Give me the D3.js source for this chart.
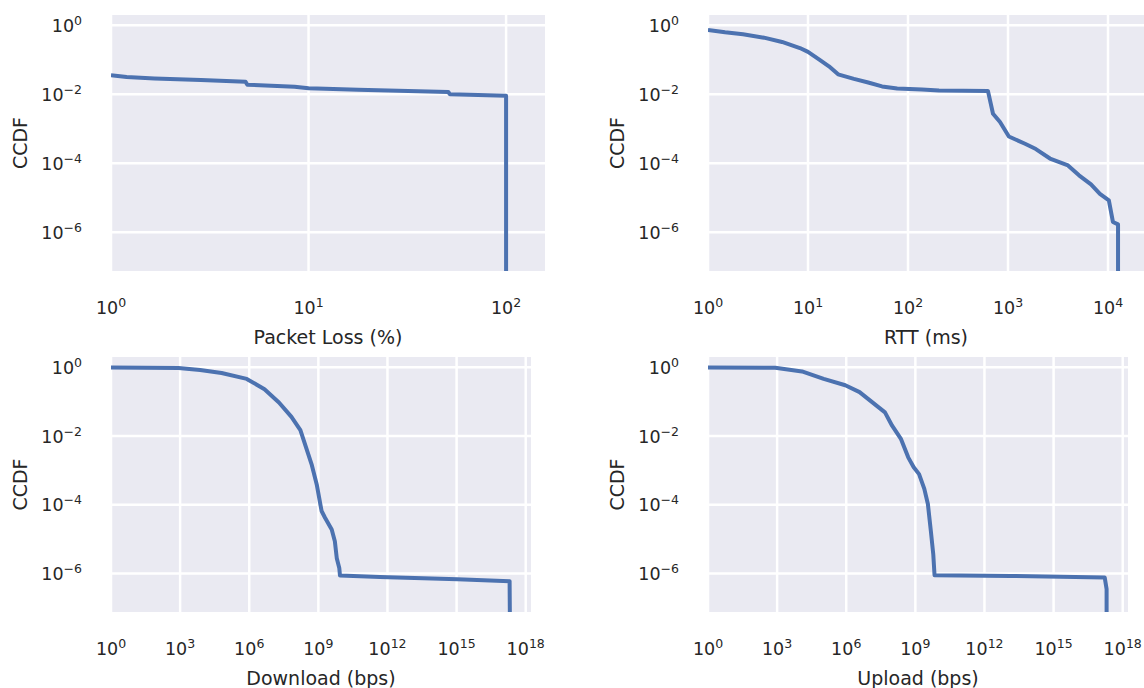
<!DOCTYPE html>
<html lang="en">
  <head>
    <meta charset="UTF-8" />
    <title>CCDF panels</title>
    <script src="https://cdn.jsdelivr.net/npm/d3@7"></script>
    <style>
      body { margin: 0; background: #fff; }
      text { font-family: "DejaVu Sans", sans-serif; fill: #262626; }
    </style>
  </head>
  <body>
    <script>
      // values
      var lossX = [1, 1.2, 1.66, 2.85, 4.8, 4.9, 8.5, 10, 17.8, 51, 52, 100, 100];
      var lossY = [0.036, 0.032, 0.029, 0.026, 0.023, 0.019, 0.0166, 0.0151, 0.0135, 0.0117, 0.0100, 0.0091, 1e-8];

      var rttX = [1, 1.48, 2.24, 3.63, 5.5, 8.3, 10, 13.2, 16.2, 20, 28.8, 40, 55, 78, 138, 204, 630,
                  708, 832, 1020, 1480, 1900, 2630, 3980, 5130, 6760, 8300, 10200, 11200, 12600, 12600];
      var rttY = [0.74, 0.63, 0.55, 0.44, 0.33, 0.22, 0.17, 0.098, 0.065, 0.038, 0.028, 0.022, 0.017, 0.0148, 0.0138, 0.0129, 0.0126,
                  0.00275, 0.00158, 0.0006, 0.00037, 0.00026, 0.000138, 8.7e-5, 4.5e-5, 2.45e-5, 1.3e-5, 8.5e-6, 2e-6, 1.7e-6, 1e-8];

      var downX = [1, 850, 7400, 6.3e4, 7.8e5, 4.6e6, 1.95e7, 6.8e7, 1.66e8, 5.1e8, 8.5e8, 1.38e9, 1.95e9, 3.8e9,
                   5.2e9, 6.3e9, 8.1e9, 8.7e9, 4.8e11, 1.1e15, 2e17, 2.1e17];
      var downY = [0.98, 0.95, 0.83, 0.68, 0.46, 0.23, 0.095, 0.036, 0.0148, 1.5e-3, 3.9e-4, 6.6e-5, 4.2e-5, 1.9e-5,
                   8.7e-6, 2.8e-6, 1.45e-6, 8.7e-7, 7.9e-7, 6.8e-7, 6.0e-7, 1e-8];

      var upX = [1, 830, 1.2e4, 1.05e5, 9.1e5, 3.8e6, 1.1e7, 4.8e7, 9.8e7, 2.4e8, 4.9e8, 8.5e8, 1.45e9, 2.45e9,
                 3.5e9, 4.7e9, 6e9, 6.8e9, 1.35e13, 1.66e17, 2e17, 2e17];
      var upY = [0.98, 0.97, 0.76, 0.46, 0.30, 0.19, 0.107, 0.049, 0.02, 0.0081, 0.0024, 0.00123, 7.8e-4, 2.9e-4,
                 1.05e-4, 1.74e-5, 3.6e-6, 8.9e-7, 8.5e-7, 7.6e-7, 3.5e-7, 1e-8];

      // tick exponents
      var yTickExp = [0, -2, -4, -6];
      var lossTickExp = [0, 1, 2];
      var rttTickExp = [0, 1, 2, 3, 4];
      var bpsTickExp = [0, 3, 6, 9, 12, 15, 18];

      var labels = ["Packet Loss (%)", "RTT (ms)", "Download (bps)", "Upload (bps)"];

      var w = 1144, h = 688;
      var svg = d3.select("body").append("svg")
                  .attr("width", w)
                  .attr("height", h);

      var panels = [
        { xs: lossX, ys: lossY, ticks: lossTickExp, xmax: Math.pow(10, 2.197), left: 111, right: 545, top: 15, bottom: 271, label: labels[0] },
        { xs: rttX, ys: rttY, ticks: rttTickExp, xmax: Math.pow(10, 4.36), left: 708, right: 1144, top: 15, bottom: 271, label: labels[1] },
        { xs: downX, ys: downY, ticks: bpsTickExp, xmax: Math.pow(10, 18.23), left: 111, right: 531, top: 357, bottom: 612, label: labels[2] },
        { xs: upX, ys: upY, ticks: bpsTickExp, xmax: Math.pow(10, 18.23), left: 708, right: 1128, top: 357, bottom: 612, label: labels[3] }
      ];

      function sup(n) {
        return String(n).replace("-", "\u2212");
      }

      panels.forEach(function(p, i) {
        var xScale = d3.scaleLog().domain([1, p.xmax]).range([p.left, p.right]);
        var yScale = d3.scaleLog().domain([Math.pow(10, -7.12), Math.pow(10, 0.3)]).range([p.bottom, p.top]);

        var g = svg.append("g");

        g.append("rect")
         .attr("x", p.left)
         .attr("y", p.top)
         .attr("width", p.right - p.left)
         .attr("height", p.bottom - p.top)
         .attr("fill", "#eaeaf2");

        // grid
        g.selectAll(".vgrid")
         .data(p.ticks)
         .enter()
         .append("line")
         .attr("x1", function(d) { return xScale(Math.pow(10, d)); })
         .attr("x2", function(d) { return xScale(Math.pow(10, d)); })
         .attr("y1", p.top)
         .attr("y2", p.bottom)
         .style("stroke", "#fff")
         .style("stroke-width", 2.5);

        g.selectAll(".hgrid")
         .data(yTickExp)
         .enter()
         .append("line")
         .attr("x1", p.left)
         .attr("x2", p.right)
         .attr("y1", function(d) { return yScale(Math.pow(10, d)); })
         .attr("y2", function(d) { return yScale(Math.pow(10, d)); })
         .style("stroke", "#fff")
         .style("stroke-width", 2.5);

        // the curve
        var clipId = "clip" + i;
        svg.append("clipPath")
           .attr("id", clipId)
           .append("rect")
           .attr("x", p.left)
           .attr("y", p.top)
           .attr("width", p.right - p.left)
           .attr("height", p.bottom - p.top);

        var pts = p.xs.map(function(x, k) { return [x, p.ys[k]]; });
        var line = d3.line()
                     .x(function(d) { return xScale(d[0]); })
                     .y(function(d) { return yScale(d[1]); });

        g.append("path")
         .datum(pts)
         .attr("clip-path", "url(#" + clipId + ")")
         .attr("d", line)
         .attr("fill", "none")
         .style("stroke", "#4c72b0")
         .style("stroke-width", 4)
         .style("stroke-linejoin", "round");

        // x tick labels
        var xt = g.selectAll(".xt")
                  .data(p.ticks)
                  .enter()
                  .append("text")
                  .attr("x", function(d) { return xScale(Math.pow(10, d)); })
                  .attr("y", p.bottom + 42.5)
                  .attr("text-anchor", "middle")
                  .style("font-size", "17.5px");
        xt.append("tspan").text("10");
        xt.append("tspan")
          .attr("dy", -7)
          .style("font-size", "12.5px")
          .text(function(d) { return sup(d); });

        // y tick labels
        var yt = g.selectAll(".yt")
                  .data(yTickExp)
                  .enter()
                  .append("text")
                  .attr("x", p.left - 29)
                  .attr("y", function(d) { return yScale(Math.pow(10, d)) + 6.5; })
                  .attr("text-anchor", "end")
                  .style("font-size", "17.5px");
        yt.append("tspan").text("10");
        yt.append("tspan")
          .attr("dy", -7)
          .style("font-size", "12.5px")
          .text(function(d) { return sup(d); });

        // axis titles
        g.append("text")
         .attr("x", (p.left + p.right) / 2)
         .attr("y", p.bottom + 72.5)
         .attr("text-anchor", "middle")
         .style("font-size", "19px")
         .text(p.label);

        g.append("text")
         .attr("transform", "translate(" + (p.left - 84) + "," + ((p.top + p.bottom) / 2) + ") rotate(-90)")
         .attr("text-anchor", "middle")
         .style("font-size", "19px")
         .text("CCDF");
      });
    </script>
  </body>
</html>
